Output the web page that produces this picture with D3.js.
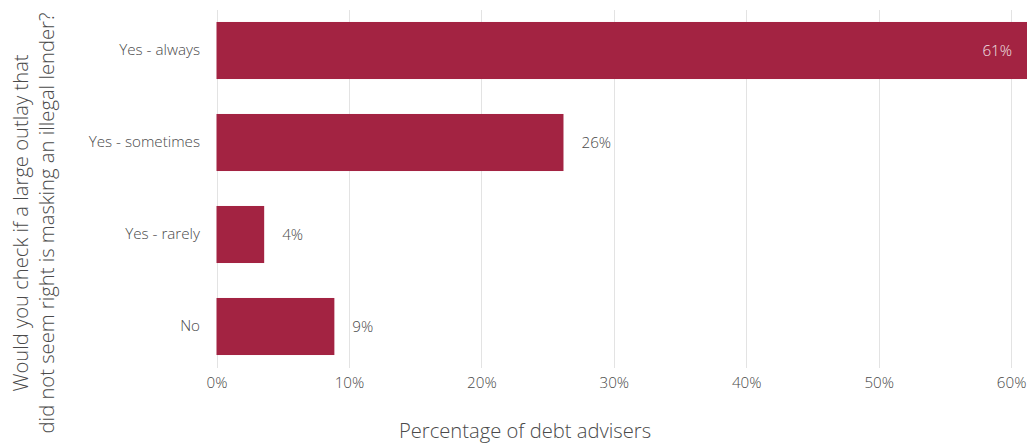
<!DOCTYPE html>
<html><head><meta charset="utf-8">
<script src="https://cdn.jsdelivr.net/npm/d3@7"></script>
<style>body{margin:0;background:#fff;} svg{display:block;font-family:"Open Sans",sans-serif;font-weight:300;}</style>
</head><body><svg id="c" width="1032" height="443"></svg>
<script>
const categories = ["Yes - always","Yes - sometimes","Yes - rarely","No"];
const values = [0.612, 0.262, 0.036, 0.089];
const labels = ["61%","26%","4%","9%"];
const xTicks = [0,0.1,0.2,0.3,0.4,0.5,0.6];
const xTitle = "Percentage of debt advisers";
const yTitleLines = ["Would you check if a large outlay that","did not seem right is masking an illegal lender?"];

const svg = d3.select("#c");
const x = d3.scaleLinear().domain([0,0.612]).range([216.5,1027]);
const y = d3.scaleBand().domain(categories).range([4.5,372.5]).paddingInner(0.38).paddingOuter(0.19);
const barColor = "#a32342";
const textColor = "#4a4a4a";
const fs = 15.2;

// grid
svg.append("g").selectAll("line").data(xTicks).join("line")
  .attr("x1",d=>Math.round(x(d))+0.5).attr("x2",d=>Math.round(x(d))+0.5)
  .attr("y1",10).attr("y2",368).attr("stroke","#e3e3e3").attr("stroke-width",1);

// x axis labels
const xa = svg.append("g").attr("transform","translate(0,368)")
  .call(d3.axisBottom(x).tickValues(xTicks).tickFormat(d3.format(".0%")).tickSize(0).tickPadding(9));
xa.select(".domain").remove();
xa.selectAll("text").attr("font-size",fs).attr("fill",textColor).attr("font-family","Open Sans, sans-serif");

// y axis labels
const ya = svg.append("g").attr("transform","translate(216,0)")
  .call(d3.axisLeft(y).tickSize(0).tickPadding(16));
ya.select(".domain").remove();
ya.selectAll("text").attr("font-size",fs).attr("fill",textColor).attr("font-family","Open Sans, sans-serif");

// bars
svg.append("g").selectAll("rect").data(categories).join("rect")
  .attr("x",x(0)).attr("y",d=>y(d)).attr("height",y.bandwidth())
  .attr("width",(d,i)=>x(values[i])-x(0)).attr("fill",barColor);

// value labels
svg.append("g").selectAll("text").data(categories).join("text")
  .attr("x",(d,i)=> i===0 ? x(values[i])-15 : x(values[i])+18)
  .attr("y",d=>y(d)+y.bandwidth()/2).attr("dy","0.35em")
  .attr("text-anchor",(d,i)=> i===0 ? "end" : "start")
  .attr("font-size",fs)
  .attr("fill",(d,i)=> i===0 ? "#f0e0e4" : textColor)
  .text((d,i)=>labels[i]);

// x title
svg.append("text").attr("x",525).attr("y",438).attr("text-anchor","middle")
  .attr("font-size",20.2).attr("fill",textColor).text(xTitle);

// y title
const yt = svg.append("text").attr("transform","translate(0,223) rotate(-90)")
  .attr("text-anchor","middle").attr("font-size",20.2).attr("fill",textColor);
yt.selectAll("tspan").data(yTitleLines).join("tspan")
  .attr("x",0).attr("y",(d,i)=>28+i*26).text(d=>d);
</script></body></html>
